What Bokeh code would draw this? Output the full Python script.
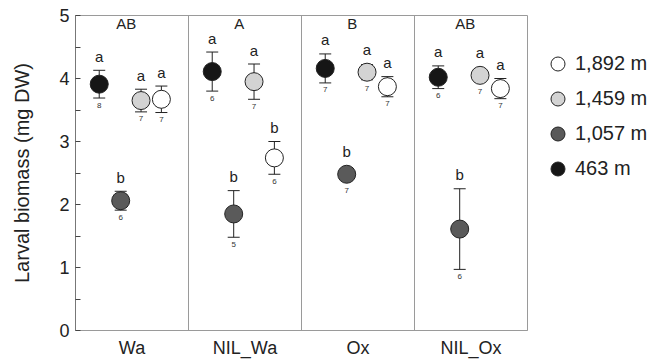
from bokeh.plotting import figure
from bokeh.models import (ColumnDataSource, Whisker, Span, FixedTicker, Range1d,
                          Legend, LegendItem, TeeHead)
from bokeh.core.properties import value
from bokeh.embed import file_html
from bokeh.resources import INLINE

# ---------------- data ----------------
groups = ["Wa", "NIL_Wa", "Ox", "NIL_Ox"]
group_letters = ["AB", "A", "B", "AB"]

elev_labels = ["1,892 m", "1,459 m", "1,057 m", "463 m"]
elev_colors = ["#ffffff", "#d3d3d3", "#5a5a5a", "#161616"]
elev_offsets = [0.76, 0.58, 0.40, 0.21]   # position inside each panel

mean_1892 = [3.67, 2.74, 3.87, 3.84]
err_1892 = [0.21, 0.26, 0.16, 0.16]
lett_1892 = ["a", "b", "a", "a"]
n_1892 = ["7", "6", "7", "7"]

mean_1459 = [3.65, 3.95, 4.10, 4.05]
err_1459 = [0.18, 0.28, 0.12, 0.08]
lett_1459 = ["a", "a", "a", "a"]
n_1459 = ["7", "7", "7", "7"]

mean_1057 = [2.06, 1.85, 2.48, 1.61]
err_1057 = [0.15, 0.37, 0.07, 0.64]
lett_1057 = ["b", "b", "b", "b"]
n_1057 = ["6", "5", "7", "6"]

mean_463 = [3.91, 4.11, 4.16, 4.02]
err_463 = [0.22, 0.31, 0.23, 0.18]
lett_463 = ["a", "a", "a", "a"]
n_463 = ["8", "6", "7", "6"]

series = [
    (mean_1892, err_1892, lett_1892, n_1892),
    (mean_1459, err_1459, lett_1459, n_1459),
    (mean_1057, err_1057, lett_1057, n_1057),
    (mean_463, err_463, lett_463, n_463),
]

FONT = "Liberation Sans"
MARKER = 18
RADIUS_DATA = 0.145  # marker radius expressed in y units (63 px per unit)

p = figure(frame_width=452, frame_height=315, output_backend="svg",
           toolbar_location=None, x_range=Range1d(0, 4), y_range=Range1d(0, 5),
           min_border_left=75, min_border_top=15, min_border_right=120,
           min_border_bottom=5)
p.outline_line_color = "#9a9a9a"
p.xgrid.visible = False
p.ygrid.visible = False
p.background_fill_color = "white"
p.border_fill_color = "white"

for xv in [1, 2, 3]:
    p.add_layout(Span(location=xv, dimension="height", line_color="#9a9a9a",
                      line_width=1))

legend_renderers = {}
for (means, errs, letts, ns), lab, col, off in zip(series, elev_labels,
                                                     elev_colors, elev_offsets):
    xs = [i + off for i in range(len(groups))]
    up = [m + e for m, e in zip(means, errs)]
    lo = [m - e for m, e in zip(means, errs)]
    top_anchor = [max(u, m + RADIUS_DATA) for u, m in zip(up, means)]
    bot_anchor = [min(l, m - RADIUS_DATA) for l, m in zip(lo, means)]
    src = ColumnDataSource(dict(x=xs, y=means, up=up, lo=lo, lett=letts, n=ns,
                                ta=top_anchor, ba=bot_anchor))
    # smaller copy (fully covered by the main marker) used as legend swatch
    legend_renderers[lab] = p.scatter("x", "y", source=src, size=14,
                                      fill_color=col, line_color="#222222",
                                      line_width=1)
    p.scatter("x", "y", source=src, size=MARKER, fill_color=col,
              line_color="#222222", line_width=1)
    p.add_layout(Whisker(source=src, base="x", upper="up", lower="lo",
                         line_color="#222222", line_width=1,
                         upper_head=TeeHead(size=12, line_color="#222222"),
                         lower_head=TeeHead(size=12, line_color="#222222")))
    p.text("x", "ta", text="lett", source=src, text_font=value(FONT),
           text_font_size="15px", text_align="center",
           text_baseline="middle", y_offset=-14, text_color="#222222")
    p.text("x", "ba", text="n", source=src, text_font=value(FONT),
           text_font_size="8px", text_align="center", text_baseline="middle",
           y_offset=7, text_color="#333333")

gsrc = ColumnDataSource(dict(x=[i + 0.45 for i in range(len(groups))],
                             y=[5] * len(groups), t=group_letters))
p.text("x", "y", text="t", source=gsrc, text_font=value(FONT),
       text_font_size="15px", text_align="center", text_baseline="middle",
       y_offset=8, text_color="#222222")

# axes
p.xaxis.ticker = FixedTicker(ticks=[i + 0.5 for i in range(len(groups))])
p.xaxis.major_label_overrides = {i + 0.5: g for i, g in enumerate(groups)}
p.xaxis.major_tick_line_color = None
p.xaxis.minor_tick_line_color = None
p.xaxis.axis_line_color = "#9a9a9a"
p.xaxis.major_label_text_font = FONT
p.xaxis.major_label_text_font_size = "18px"
p.xaxis.major_label_text_color = "#222222"
p.xaxis.major_label_standoff = 1

p.yaxis.ticker = FixedTicker(ticks=[0, 1, 2, 3, 4, 5],
                             minor_ticks=[0.5, 1.5, 2.5, 3.5, 4.5])
p.yaxis.major_tick_in = 5
p.yaxis.major_tick_out = 0
p.yaxis.minor_tick_in = 5
p.yaxis.minor_tick_out = 0
p.yaxis.axis_line_color = "#777777"
p.yaxis.major_tick_line_color = "#444444"
p.yaxis.minor_tick_line_color = "#444444"
p.yaxis.major_label_text_font = FONT
p.yaxis.major_label_text_font_size = "18px"
p.yaxis.major_label_text_color = "#222222"
p.yaxis.major_label_standoff = 6
p.yaxis.axis_label = "Larval biomass (mg DW)"
p.yaxis.axis_label_text_font = FONT
p.yaxis.axis_label_text_font_size = "20px"
p.yaxis.axis_label_text_font_style = "normal"
p.yaxis.axis_label_text_color = "#222222"
p.yaxis.axis_label_standoff = 23

legend = Legend(items=[LegendItem(label=lab, renderers=[legend_renderers[lab]])
                       for lab in elev_labels],
                location=(13, 144), orientation="vertical",
                glyph_width=35, glyph_height=35, spacing=0, padding=0,
                margin=0, label_standoff=-12, label_text_font=FONT,
                label_text_font_size="20px", label_text_color="#222222",
                border_line_color=None, background_fill_alpha=0)
p.add_layout(legend, "right")

open("out.html", "w").write(file_html(p, INLINE))
